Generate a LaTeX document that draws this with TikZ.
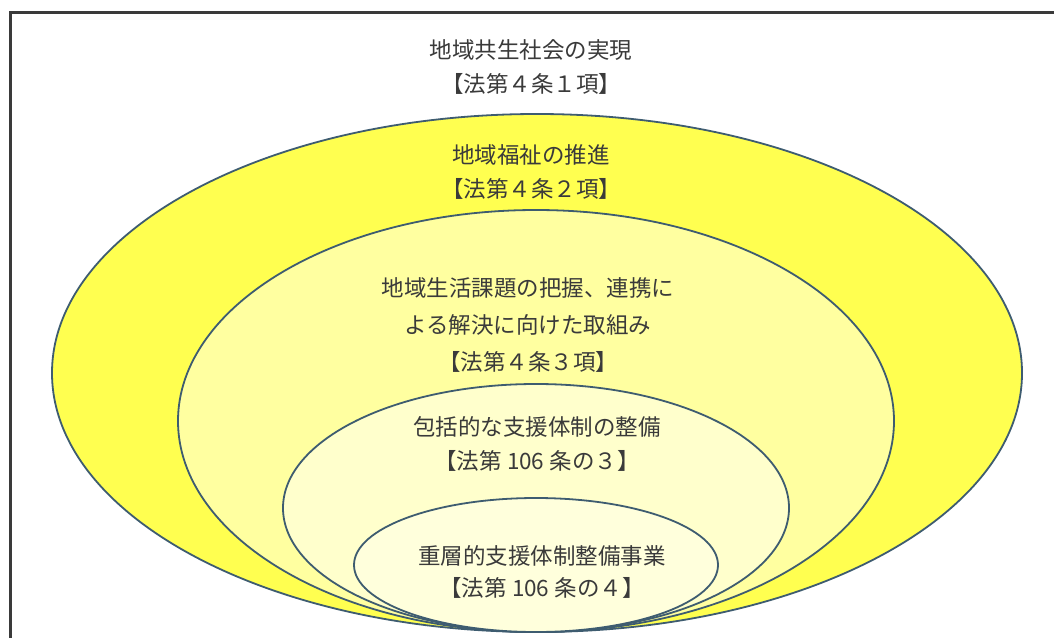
\documentclass[tikz,border=0pt]{standalone}
\usepackage{fontspec}
\newfontfamily\jp{Noto Sans CJK JP}
\definecolor{edge}{HTML}{3E5C70}
\definecolor{frameC}{HTML}{3A3A3A}
\definecolor{txt}{HTML}{3A3A3A}
\definecolor{yA}{HTML}{FFFF50}
\definecolor{yB}{HTML}{FFFFA0}
\definecolor{yC}{HTML}{FFFFCC}
\definecolor{yD}{HTML}{FFFFDC}
\tikzset{
  ring/.style={draw=edge, line width=1.8pt},
  lbl/.style={text=txt, align=center, font=\jp\fontsize{22.5}{34}\selectfont, inner sep=0pt}
}
\begin{document}
\begin{tikzpicture}[x=1pt,y=-1pt]
\useasboundingbox (0,0) rectangle (1054,637);
\fill[white] (0,0) rectangle (1054,637);
% frame (only top and left edges visible)
\draw[frameC, line width=2.6pt] (1060,12.5) -- (10.5,12.5) -- (10.5,645);
% nested ellipses
\path[ring, fill=yA] (537,373) ellipse [x radius=485, y radius=259];
\path[ring, fill=yB] (536,421) ellipse [x radius=358, y radius=211];
\path[ring, fill=yC] (536,508) ellipse [x radius=253, y radius=124];
\path[ring, fill=yD] (536,565) ellipse [x radius=182, y radius=67];
% labels
\node[lbl] (t1) at (531,67) {地域共生社会の実現\\【法第４条１項】};
\node[lbl] (t2) at (531,172) {地域福祉の推進\\【法第４条２項】};
\node[lbl, font=\jp\fontsize{22.5}{37}\selectfont] (t3) at (528,325) {地域生活課題の把握、連携に\\よる解決に向けた取組み\\【法第４条３項】};
\node[lbl] (t4) at (537,444) {包括的な支援体制の整備\\【法第 106 条の３】};
\node[lbl, font=\jp\fontsize{22.5}{32}\selectfont] (t5) at (542,572) {重層的支援体制整備事業\\【法第 106 条の４】};
\end{tikzpicture}
\end{document}
